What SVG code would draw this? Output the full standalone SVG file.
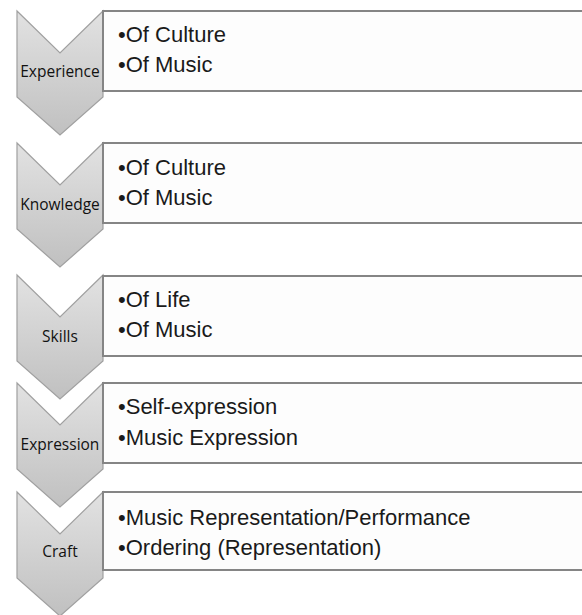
<svg xmlns="http://www.w3.org/2000/svg" width="582" height="615" viewBox="0 0 582 615">
<defs>
<linearGradient id="chev" x1="0" y1="0" x2="0" y2="1">
<stop offset="0" stop-color="#e2e2e2"/>
<stop offset="1" stop-color="#c0c0c0"/>
</linearGradient>
<style>
.chev{fill:url(#chev);stroke:#a0a0a0;stroke-width:1.2}
.box{fill:#fdfdfd;stroke:#858585;stroke-width:2}
.lbl{font-family:"Open Sans","Liberation Sans",sans-serif;font-size:15.5px;fill:#111111;text-anchor:middle}
.item{font-family:"Liberation Sans",Arial,sans-serif;font-size:22px;fill:#1a1a1a}
</style>
</defs>
<rect width="582" height="615" fill="#ffffff"/>
<g id="connectors"></g>
<g id="experience">
<path class="chev" d="M17,11 L60,53 L103,11 L103,97 L60,135 L17,97 Z"/>
<rect class="box" x="103" y="11" width="485" height="80"/>
<text class="lbl" x="60" y="77">Experience</text>
<text class="item" x="118" y="42">•Of Culture</text>
<text class="item" x="118" y="72">•Of Music</text>
</g>
<g id="knowledge">
<path class="chev" d="M17,143 L60,185 L103,143 L103,229 L60,267 L17,229 Z"/>
<rect class="box" x="103" y="143" width="485" height="80"/>
<text class="lbl" x="60" y="210">Knowledge</text>
<text class="item" x="118" y="175">•Of Culture</text>
<text class="item" x="118" y="205">•Of Music</text>
</g>
<g id="skills">
<path class="chev" d="M17,275 L60,317 L103,275 L103,361 L60,399 L17,361 Z"/>
<rect class="box" x="103" y="276" width="485" height="80"/>
<text class="lbl" x="60" y="342">Skills</text>
<text class="item" x="118" y="307">•Of Life</text>
<text class="item" x="118" y="337">•Of Music</text>
</g>
<g id="expression">
<path class="chev" d="M17,383 L60,425 L103,383 L103,469 L60,507 L17,469 Z"/>
<rect class="box" x="103" y="383" width="485" height="80"/>
<text class="lbl" x="60" y="450">Expression</text>
<text class="item" x="118" y="414">•Self-expression</text>
<text class="item" x="118" y="445">•Music Expression</text>
</g>
<g id="craft">
<path class="chev" d="M17,492 L60,534 L103,492 L103,578 L60,616 L17,578 Z"/>
<rect class="box" x="103" y="492" width="485" height="78"/>
<text class="lbl" x="60" y="557">Craft</text>
<text class="item" x="118" y="525">•Music Representation/Performance</text>
<text class="item" x="118" y="555">•Ordering (Representation)</text>
</g>
</svg>
